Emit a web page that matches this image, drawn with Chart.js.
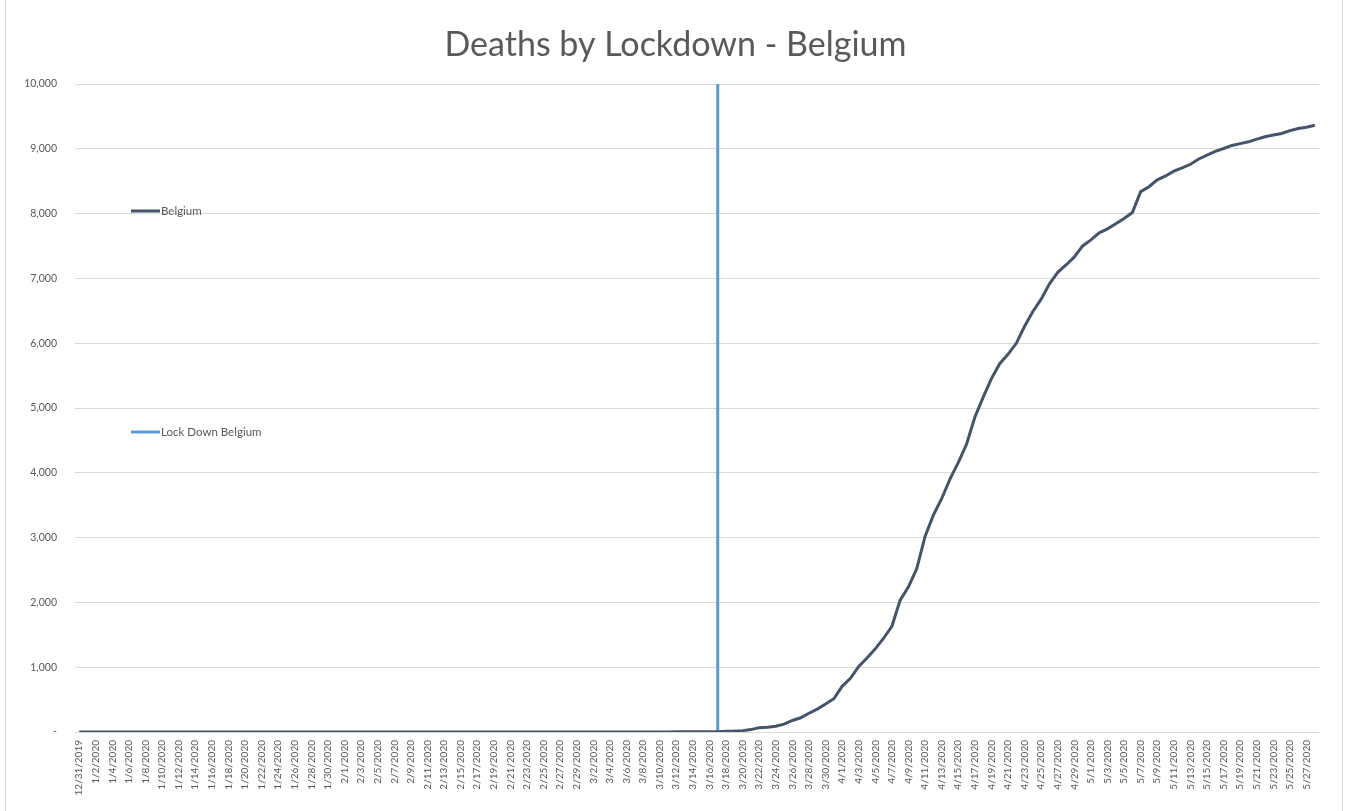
<!DOCTYPE html>
<html>
<head>
<meta charset="utf-8">
<script src="https://cdn.jsdelivr.net/npm/chart.js@4/dist/chart.umd.min.js"></script>
<style>
  html, body { margin: 0; padding: 0; background: #ffffff; }
  #wrap { width: 1351px; height: 811px; position: relative; }
</style>
</head>
<body>
<div id="wrap"><canvas id="c" width="1351" height="811"></canvas></div>
<script>
// ---- Data ----
const dates = (function () {
  const out = [];
  const d = new Date(2019, 11, 31);
  for (let i = 0; i < 150; i++) {
    out.push((d.getMonth() + 1) + "/" + d.getDate() + "/" + d.getFullYear());
    d.setDate(d.getDate() + 1);
  }
  return out;
})();

// Cumulative deaths, Belgium: 12/31/2019 .. 3/11/2020 are zero (72 days)
const zeroDays = 72;
const belgiumFrom312 = [
  3, 3, 3, 4, 4, 5, 10, 14, 21, 37,            // 3/12 - 3/21
  67, 75, 88, 122, 178, 220, 289, 353, 431, 513, // 3/22 - 3/31
  705, 828, 1011, 1143, 1283, 1447, 1632, 2035, 2240, 2523, // 4/1 - 4/10
  3019, 3346, 3600, 3903, 4157, 4440, 4857, 5163, 5453, 5683, // 4/11 - 4/20
  5828, 5998, 6262, 6490, 6679, 6917, 7094, 7207, 7331, 7501, // 4/21 - 4/30
  7594, 7703, 7765, 7844, 7924, 8016, 8339, 8415, 8521, 8581, // 5/1 - 5/10
  8656, 8707, 8761, 8843, 8903, 8959, 9005, 9052, 9080, 9108, // 5/11 - 5/20
  9150, 9186, 9212, 9237, 9280, 9312, 9334, 9364              // 5/21 - 5/28
];
const belgium = new Array(zeroDays).fill(0).concat(belgiumFrom312);

const lockdownDate = "3/17/2020";
const lockdownValues = [0, 10000];

const yTicks = { min: 0, max: 10000, step: 1000 };
const titleText = "Deaths by Lockdown - Belgium";
const seriesNames = ["Belgium", "Lock Down Belgium"];

// ---- Chart ----
const FONT = "Lato, 'Open Sans', sans-serif";
const TEXT = "#595959";

const legendPlugin = {
  id: "insideLegend",
  afterDraw(chart) {
    const ctx = chart.ctx;
    const ys = [211, 432];
    ctx.save();
    chart.data.datasets.forEach((ds, i) => {
      const y = ys[i];
      ctx.strokeStyle = ds.borderColor;
      ctx.lineWidth = 3;
      ctx.lineCap = "butt";
      ctx.beginPath();
      ctx.moveTo(131, y);
      ctx.lineTo(160, y);
      ctx.stroke();
      ctx.fillStyle = TEXT;
      ctx.font = "11.5px " + FONT;
      ctx.textBaseline = "middle";
      ctx.textAlign = "left";
      ctx.fillText(ds.label, 161, y);
    });
    ctx.restore();
  }
};

const titlePlugin = {
  id: "centeredTitle",
  afterDraw(chart) {
    const ctx = chart.ctx;
    ctx.save();
    ctx.fillStyle = TEXT;
    ctx.font = "34px " + FONT;
    ctx.textAlign = "center";
    ctx.textBaseline = "middle";
    ctx.fillText(titleText, chart.width / 2, 45.4);
    ctx.restore();
  }
};

const bgPlugin = {
  id: "bg",
  beforeDraw(chart) {
    const ctx = chart.ctx;
    ctx.save();
    ctx.fillStyle = "#ffffff";
    ctx.fillRect(0, 0, chart.width, chart.height);
    ctx.strokeStyle = "#d9d9d9";
    ctx.lineWidth = 1;
    ctx.strokeRect(5.5, -2, 1337, 820);
    ctx.restore();
  }
};

new Chart(document.getElementById("c"), {
  type: "line",
  data: {
    labels: dates,
    datasets: [
      {
        label: seriesNames[0],
        data: belgium,
        borderColor: "#44546a",
        backgroundColor: "#44546a",
        borderWidth: 3,
        pointRadius: 0,
        tension: 0,
        fill: false
      },
      {
        label: seriesNames[1],
        data: lockdownValues.map(v => ({ x: lockdownDate, y: v })),
        borderColor: "#5b9bd5",
        backgroundColor: "#5b9bd5",
        borderWidth: 3,
        pointRadius: 0,
        tension: 0,
        fill: false
      }
    ]
  },
  options: {
    responsive: false,
    animation: false,
    devicePixelRatio: 1,
    layout: { padding: { left: 0, right: 32, top: 84, bottom: 0 } },
    plugins: {
      legend: { display: false },
      tooltip: { enabled: false },
      title: { display: false }
    },
    scales: {
      x: {
        type: "category",
        offset: true,
        grid: { display: false, drawTicks: false },
        border: { display: false },
        ticks: {
          autoSkip: false,
          minRotation: 90,
          maxRotation: 90,
          padding: 8,
          color: TEXT,
          font: { family: FONT, size: 10 },
          callback: function (val, idx) {
            return idx % 2 === 0 ? this.getLabelForValue(val) : null;
          }
        },
        afterFit(scale) { scale.height = 79; }
      },
      y: {
        min: yTicks.min,
        max: yTicks.max,
        grid: { color: "#d9d9d9", lineWidth: 1, drawTicks: false },
        border: { display: false },
        ticks: {
          stepSize: yTicks.step,
          padding: 18,
          color: TEXT,
          font: { family: FONT, size: 10.5 },
          callback: v => v === 0 ? "-" : v.toLocaleString("en-US")
        },
        afterFit(scale) { scale.width = 75; }
      }
    }
  },
  plugins: [bgPlugin, titlePlugin, legendPlugin]
});
</script>
</body>
</html>
